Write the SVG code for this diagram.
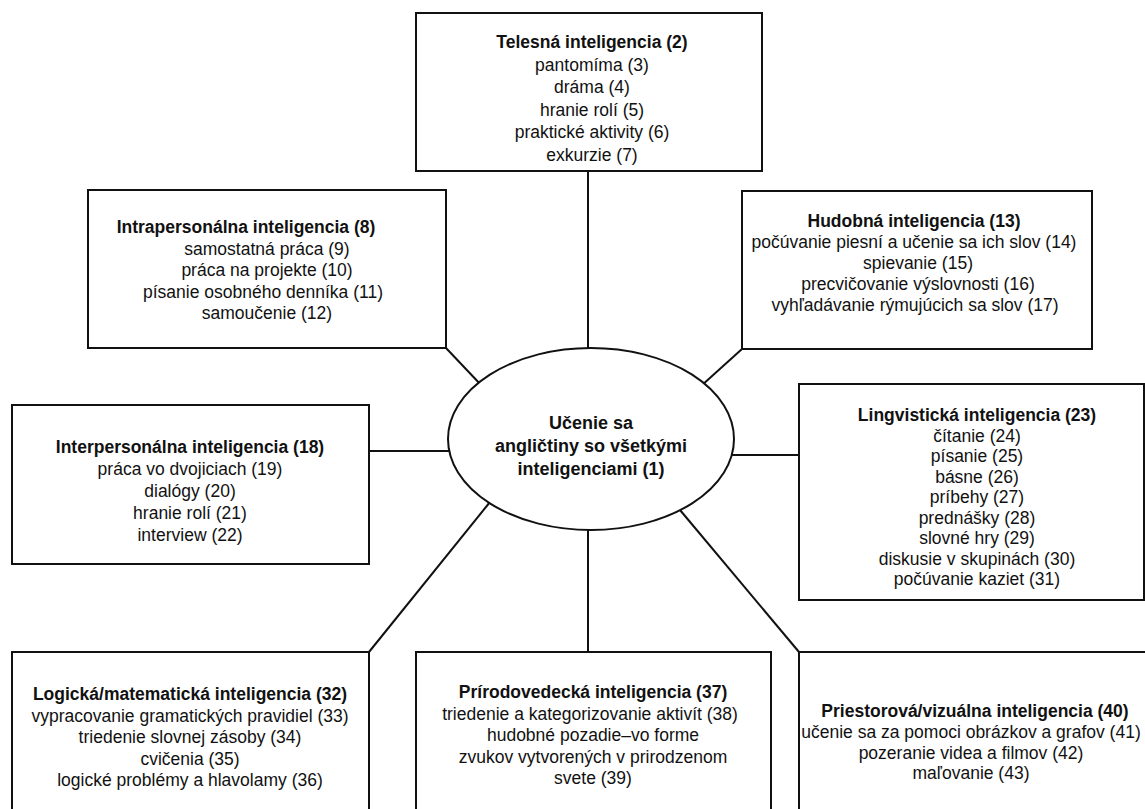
<svg xmlns="http://www.w3.org/2000/svg" width="1145" height="809" viewBox="0 0 1145 809">
<style>
.box{fill:#fff;stroke:#111;stroke-width:2}
.conn{stroke:#111;stroke-width:2;fill:none}
text{font-family:"Liberation Sans",Arial,sans-serif;font-size:17.5px;fill:#111;text-anchor:middle}
.t{font-weight:bold}
.c{font-weight:bold;font-size:18px}
</style>
<rect width="1145" height="809" fill="#fff"/>
<g id="connectors">
<line class="conn" x1="588" y1="171" x2="588" y2="352"/>
<line class="conn" x1="446" y1="348" x2="482" y2="386"/>
<line class="conn" x1="742" y1="349" x2="701" y2="386"/>
<line class="conn" x1="369" y1="451" x2="452" y2="451"/>
<line class="conn" x1="730" y1="455" x2="799" y2="455"/>
<line class="conn" x1="369" y1="652" x2="490" y2="502"/>
<line class="conn" x1="588" y1="525" x2="588" y2="652"/>
<line class="conn" x1="799" y1="652" x2="680" y2="510"/>
</g>
<g id="center">
<ellipse class="box" cx="591" cy="439" rx="143" ry="91"/>
<text class="c" x="591" y="429">Učenie sa</text>
<text class="c" x="591" y="452">angličtiny so všetkými</text>
<text class="c" x="591" y="475">inteligenciami (1)</text>
</g>
<g id="telesna">
<rect class="box" x="416" y="13" width="346" height="158"/>
<text class="t" x="592" y="48">Telesná inteligencia (2)</text>
<text x="592" y="70.5">pantomíma (3)</text>
<text x="592" y="93">dráma (4)</text>
<text x="592" y="115.5">hranie rolí (5)</text>
<text x="592" y="138">praktické aktivity (6)</text>
<text x="592" y="160.5">exkurzie (7)</text>
</g>
<g id="intrapersonalna">
<rect class="box" x="88" y="190" width="358" height="158"/>
<text class="t" x="246" y="233">Intrapersonálna inteligencia (8)</text>
<text x="267" y="254.5">samostatná práca (9)</text>
<text x="267" y="276">práca na projekte (10)</text>
<text x="263" y="297.5">písanie osobného denníka (11)</text>
<text x="267" y="319">samoučenie (12)</text>
</g>
<g id="hudobna">
<rect class="box" x="742" y="191" width="350" height="158"/>
<text class="t" x="914" y="227">Hudobná inteligencia (13)</text>
<text x="914" y="248">počúvanie piesní a učenie sa ich slov (14)</text>
<text x="918" y="269">spievanie (15)</text>
<text x="918" y="290">precvičovanie výslovnosti (16)</text>
<text x="915" y="311">vyhľadávanie rýmujúcich sa slov (17)</text>
</g>
<g id="interpersonalna">
<rect class="box" x="12" y="405" width="357" height="159"/>
<text class="t" x="190" y="453">Interpersonálna inteligencia (18)</text>
<text x="190" y="475">práca vo dvojiciach (19)</text>
<text x="190" y="497">dialógy (20)</text>
<text x="190" y="519">hranie rolí (21)</text>
<text x="190" y="541">interview (22)</text>
</g>
<g id="lingvisticka">
<rect class="box" x="799" y="384" width="345" height="216"/>
<text class="t" x="977" y="421">Lingvistická inteligencia (23)</text>
<text x="977" y="441.5">čítanie (24)</text>
<text x="977" y="462">písanie (25)</text>
<text x="977" y="482.5">básne (26)</text>
<text x="977" y="503">príbehy (27)</text>
<text x="977" y="523.5">prednášky (28)</text>
<text x="977" y="544">slovné hry (29)</text>
<text x="977" y="564.5">diskusie v skupinách (30)</text>
<text x="977" y="585">počúvanie kaziet (31)</text>
</g>
<g id="logicka">
<rect class="box" x="12" y="652" width="357" height="170"/>
<text class="t" x="190" y="700">Logická/matematická inteligencia (32)</text>
<text x="190" y="721.5">vypracovanie gramatických pravidiel (33)</text>
<text x="190" y="743">triedenie slovnej zásoby (34)</text>
<text x="190" y="764.5">cvičenia (35)</text>
<text x="190" y="786">logické problémy a hlavolamy (36)</text>
</g>
<g id="prirodovedecka">
<rect class="box" x="416" y="652" width="355" height="170"/>
<text class="t" x="593" y="698">Prírodovedecká inteligencia (37)</text>
<text x="590" y="719.5">triedenie a kategorizovanie aktivít (38)</text>
<text x="593" y="741">hudobné pozadie–vo forme</text>
<text x="593" y="762.5">zvukov vytvorených v prirodzenom</text>
<text x="593" y="784">svete (39)</text>
</g>
<g id="priestorova">
<rect class="box" x="799" y="652" width="350" height="170"/>
<text class="t" x="975" y="717">Priestorová/vizuálna inteligencia (40)</text>
<text x="971" y="738">učenie sa za pomoci obrázkov a grafov (41)</text>
<text x="971" y="758.5">pozeranie videa a filmov (42)</text>
<text x="971" y="779">maľovanie (43)</text>
</g>
</svg>
